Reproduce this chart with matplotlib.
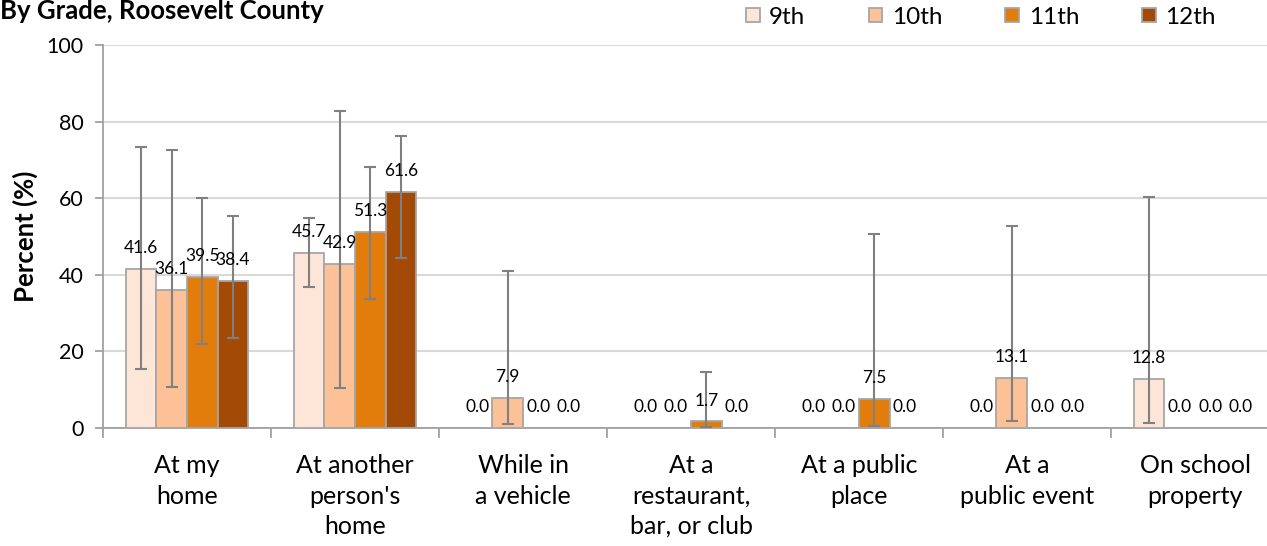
import numpy as np
import matplotlib
matplotlib.use("Agg")
import matplotlib.pyplot as plt

plt.rcParams['font.family'] = ['Lato', 'DejaVu Sans']

categories = ["At my\nhome", "At another\nperson's\nhome", "While in\na vehicle",
              "At a\nrestaurant,\nbar, or club", "At a public\nplace",
              "At a\npublic event", "On school\nproperty"]
series_names = ["9th", "10th", "11th", "12th"]
values = {
    "9th":  [41.6, 45.7, 0.0, 0.0, 0.0, 0.0, 12.8],
    "10th": [36.1, 42.9, 7.9, 0.0, 0.0, 13.1, 0.0],
    "11th": [39.5, 51.3, 0.0, 1.7, 7.5, 0.0, 0.0],
    "12th": [38.4, 61.6, 0.0, 0.0, 0.0, 0.0, 0.0],
}
ci_low = {
    "9th":  [15.4, 36.7, 0, 0, 0, 0, 1.4],
    "10th": [10.6, 10.4, 1.0, 0, 0, 1.9, 0],
    "11th": [22.0, 33.8, 0, 0.2, 0.5, 0, 0],
    "12th": [23.6, 44.4, 0, 0, 0, 0, 0],
}
ci_high = {
    "9th":  [73.4, 54.7, 0, 0, 0, 0, 60.4],
    "10th": [72.6, 82.8, 40.9, 0, 0, 52.7, 0],
    "11th": [60.0, 68.2, 0, 14.5, 50.6, 0, 0],
    "12th": [55.4, 76.2, 0, 0, 0, 0, 0],
}
colors = ["#FDE5D8", "#FCC196", "#E27C0B", "#A34A06"]
title = "By Grade, Roosevelt County"
ylabel = "Percent (%)"
yticks = [0, 20, 40, 60, 80, 100]

W, H = 1267, 546
fig = plt.figure(figsize=(W / 100, H / 100), dpi=100)
ax = fig.add_axes([103 / W, (546 - 428) / H, 1176 / W, (428 - 45) / H])

n = len(categories)
x = np.arange(n)
bw = 0.182
offsets = (np.arange(4) - 1.5) * bw

for i, s in enumerate(series_names):
    v = np.array(values[s])
    xs = x + offsets[i]
    ax.bar(xs, v, width=bw, color=colors[i], edgecolor="#A6A6A6", linewidth=1.3,
           label=s, zorder=3)
    lo = np.array(ci_low[s]); hi = np.array(ci_high[s])
    m = v > 0
    ax.errorbar(xs[m], v[m], yerr=[v[m] - lo[m], hi[m] - v[m]], fmt="none",
                ecolor="#808080", elinewidth=1.5, capsize=4.5, capthick=1.5, zorder=4)
    for xi, vi in zip(xs, v):
        ax.annotate(f"{vi:.1f}", (xi, vi), xytext=(0, 15), textcoords="offset points",
                    ha="center", va="center", fontsize=12.5, color="black", zorder=5)

ax.set_xlim(-0.5, n - 0.5)
ax.set_ylim(0, 100)
ax.set_yticks(yticks)
ax.set_yticklabels([str(t) for t in yticks], fontsize=15.5)
ax.yaxis.grid(True, color="#D9D9D9", linewidth=1.5, zorder=0)
ax.set_axisbelow(True)

ax.set_xticks(x)
ax.set_xticklabels(categories, fontsize=18, linespacing=1.38, va="top")
ax.tick_params(axis="x", which="major", length=0, pad=19)
ax.set_xticks(np.arange(n + 1) - 0.5, minor=True)
ax.tick_params(axis="x", which="minor", length=7, width=1.3, color="#A0A0A0", direction="out")
ax.tick_params(axis="y", length=6, width=1.3, color="#A0A0A0", pad=8)

for sp in ["top", "right"]:
    ax.spines[sp].set_visible(False)
ax.spines["left"].set_color("#A0A0A0")
ax.spines["left"].set_linewidth(1.3)
ax.spines["bottom"].set_color("#A0A0A0")
ax.spines["bottom"].set_linewidth(1.3)

ax.set_ylabel(ylabel, fontsize=18.5, fontweight="bold")
ax.yaxis.set_label_coords((25 - 103) / 1176, 0.5)
ax.yaxis.label.set_va("center")

fig.text(0.0, 1 - 11 / H, title, fontsize=18.5, fontweight="bold", ha="left", va="center")

leg = fig.legend(loc="center left", bbox_to_anchor=(734 / W, 1 - 17 / H), ncol=4,
                 frameon=False, fontsize=17.5, handlelength=0.55, handleheight=0.55,
                 columnspacing=2.6, handletextpad=0.4, borderpad=0)
for h in leg.legend_handles:
    h.set_edgecolor("#A6A6A6")

fig.savefig("out.png", dpi=100)
